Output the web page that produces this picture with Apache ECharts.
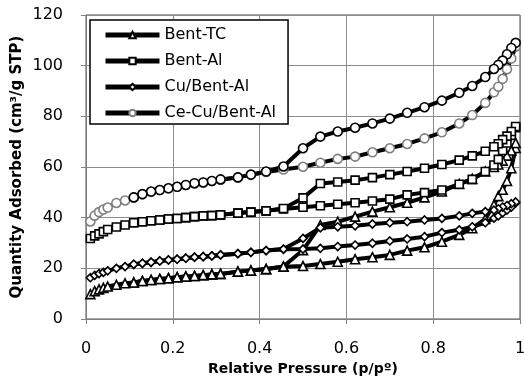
<!DOCTYPE html>
<html>
<head>
<meta charset="utf-8">
<script src="https://cdn.jsdelivr.net/npm/echarts@6/dist/echarts.min.js"></script>
<style>
  html, body { margin: 0; padding: 0; background: #fff; }
  #main { width: 524px; height: 391px; }
</style>
</head>
<body>
<div id="main"></div>
<script>
// relative pressure for the adsorption branch (up) and desorption branch (down)
const adsP = [0.01, 0.02, 0.03, 0.04, 0.05, 0.07, 0.09, 0.11, 0.13, 0.15, 0.17, 0.19, 0.21, 0.23, 0.25, 0.27, 0.29, 0.31, 0.35, 0.38, 0.415, 0.455, 0.50, 0.54, 0.58, 0.62, 0.66, 0.70, 0.74, 0.78, 0.82, 0.86, 0.89, 0.92, 0.94, 0.95, 0.96, 0.97, 0.98, 0.99];
const desP = [0.99, 0.98, 0.97, 0.96, 0.95, 0.94, 0.92, 0.89, 0.86, 0.82, 0.78, 0.74, 0.70, 0.66, 0.62, 0.58, 0.54, 0.50, 0.455, 0.415, 0.38, 0.35, 0.31, 0.29, 0.27, 0.25, 0.23, 0.21, 0.19, 0.17, 0.15, 0.13, 0.11];

const names = ["Bent-TC", "Bent-Al", "Cu/Bent-Al", "Ce-Cu/Bent-Al"];

const bentTcAds = [9.8, 11, 11.7, 12.3, 12.8, 13.5, 14.1, 14.4, 15, 15.4, 15.8, 16.1, 16.5, 16.8, 17, 17.3, 17.6, 17.8, 18.7, 19.1, 19.7, 20.6, 20.9, 21.7, 22.6, 23.6, 24.4, 25.3, 27, 28.3, 30.5, 33.2, 35.8, 39.5, 45, 48.5, 51, 54.5, 59.5, 67.5];
const bentTcDes = [69.5, 66.5, 64.5, 62.5, 61, 60, 58.2, 55.3, 53.3, 50.3, 48, 45.9, 44.1, 42.4, 40.4, 38.4, 37.1, 27.2, 20.7, 19.7, 19.1, 18.7, 17.8, 17.6, 17.3, 17, 16.8, 16.5, 16.1, 15.8, 15.4, 15, 14.4];

const bentAlAds = [31.8, 32.8, 33.6, 34.5, 35.3, 36.3, 37.1, 38, 38.4, 38.8, 39.1, 39.5, 39.7, 40, 40.4, 40.7, 40.8, 41.1, 41.8, 42.2, 42.7, 43.4, 44.1, 44.7, 45.3, 45.9, 46.6, 47.3, 49, 49.9, 50.9, 53.2, 55.1, 58.2, 60.8, 63, 66.5, 69.5, 72.5, 75.5];
const bentAlDes = [76, 74, 72.2, 70.8, 69.2, 68, 66.2, 64.4, 62.7, 61, 59.5, 58.2, 57, 55.8, 54.8, 54.1, 53.5, 47.8, 43.6, 42.7, 42.2, 41.8, 41.1, 40.8, 40.7, 40.4, 40, 39.7, 39.5, 39.1, 38.8, 38.4, 38];

const cuAds = [16.3, 17.2, 17.9, 18.4, 19, 20, 20.7, 21.6, 22, 22.4, 22.9, 23.3, 23.6, 24, 24.4, 24.6, 24.9, 25.3, 25.8, 26.3, 27, 27.5, 27.6, 27.9, 28.6, 29.2, 29.9, 30.8, 31.6, 32.5, 34.1, 35.2, 36.4, 38, 39.8, 40.7, 41.9, 43, 44.2, 45.8];
const cuDes = [46.2, 45.5, 44.8, 44.2, 43.5, 43, 42.4, 41.7, 40.7, 39.7, 39.1, 38.4, 38, 37.5, 36.8, 36.4, 36, 31.8, 27.6, 27, 26.3, 25.8, 25.3, 24.9, 24.6, 24.4, 24, 23.6, 23.3, 22.9, 22.4, 22, 21.6];

const ceCuAds = [38.5, 40.8, 42.2, 43.2, 44, 45.8, 46.8, 48, 49.2, 50.2, 50.9, 51.6, 52.2, 52.9, 53.5, 53.9, 54.5, 55, 55.9, 56.9, 58, 59, 60.1, 61.7, 63.2, 64.1, 65.8, 67.4, 69.1, 71.3, 73.7, 77.2, 80.5, 85.3, 89.5, 91.7, 94.8, 98.6, 102.8, 107.5];
const ceCuDes = [109, 107, 104.5, 102, 100.3, 98.7, 95.5, 92, 89.3, 86.2, 83.6, 81.4, 79.1, 77.2, 75.5, 74, 72, 67.4, 60.2, 58.2, 57, 55.9, 55.1, 54.5, 53.9, 53.6, 52.9, 52.2, 51.6, 50.9, 50.3, 49.3, 48];

const xTicks = [0, 0.2, 0.4, 0.6, 0.8, 1];
const yTicks = [0, 20, 40, 60, 80, 100, 120];

const FONT = "DejaVu Sans";

function pairs(px, py) {
  return px.map((p, i) => [p, py[i]]);
}

function branch(name, px, py, symbol, size, edge) {
  return {
    name: name,
    type: "line",
    data: pairs(px, py),
    symbol: symbol,
    symbolSize: size,
    showSymbol: true,
    lineStyle: { color: "#000", width: 4 },
    itemStyle: { color: "#fff", borderColor: edge, borderWidth: 1.6 },
    emphasis: { disabled: true },
    animation: false,
  };
}

var chartDom = document.getElementById("main");
var myChart = echarts.init(chartDom);

var option = {
  backgroundColor: "#fff",
  grid: {
    left: 86,
    right: 4,
    top: 15,
    bottom: 72,
    outerBoundsMode: "none",
    containLabel: false,
    show: true,
    borderColor: "#4d4d4d",
    borderWidth: 1,
  },
  legend: {
    data: names,
    orient: "vertical",
    left: 90,
    top: 20,
    padding: [7, 12, 3, 13],
    itemGap: 10,
    itemWidth: 54,
    itemHeight: 8,
    backgroundColor: "#fff",
    borderColor: "#000",
    borderWidth: 1.5,
    lineStyle: { width: 5, color: "#000" },
    textStyle: { fontFamily: FONT, fontSize: 16, lineHeight: 16, color: "#000" },
    selectedMode: false,
  },
  xAxis: {
    type: "value",
    min: 0,
    max: 1,
    interval: 0.2,
    name: "Relative Pressure (p/pº)",
    nameLocation: "middle",
    nameGap: 43,
    nameMoveOverlap: false,
    nameTextStyle: { fontFamily: FONT, fontSize: 14, lineHeight: 14, fontWeight: "bold", color: "#000" },
    axisLine: { show: true, lineStyle: { color: "#808080" } },
    axisTick: { show: true, length: 5, lineStyle: { color: "#808080" } },
    axisLabel: {
      fontFamily: FONT,
      fontSize: 16,
      lineHeight: 14,
      color: "#000",
      margin: 23,
      formatter: (v) => (xTicks.includes(+v.toFixed(1)) ? String(+v.toFixed(1)) : ""),
    },
    splitLine: { show: true, lineStyle: { color: "#8c8c8c", width: 1 } },
  },
  yAxis: {
    type: "value",
    min: 0,
    max: 120,
    interval: 20,
    name: "Quantity Adsorbed (cm³/g STP)",
    nameLocation: "middle",
    nameGap: 61,
    nameMoveOverlap: false,
    nameTextStyle: { fontFamily: FONT, fontSize: 15, fontWeight: "bold", color: "#000" },
    axisLine: { show: true, lineStyle: { color: "#808080" } },
    axisTick: { show: true, length: 5, lineStyle: { color: "#808080" } },
    axisLabel: {
      fontFamily: FONT,
      fontSize: 16,
      color: "#000",
      margin: 23,
      formatter: (v) => (yTicks.includes(v) ? String(v) : ""),
    },
    splitLine: { show: true, lineStyle: { color: "#8c8c8c", width: 1 } },
  },
  series: [
    branch(names[0], adsP, bentTcAds, "triangle", 9, "#000"),
    branch(names[0] + " des", desP, bentTcDes, "triangle", 9, "#000"),
    branch(names[1], adsP, bentAlAds, "rect", 8, "#000"),
    branch(names[1] + " des", desP, bentAlDes, "rect", 8, "#000"),
    branch(names[2], adsP, cuAds, "diamond", 8, "#000"),
    branch(names[2] + " des", desP, cuDes, "diamond", 8, "#000"),
    branch(names[3], adsP, ceCuAds, "circle", 9, "#808080"),
    branch(names[3] + " des", desP, ceCuDes, "circle", 9, "#000"),
  ],
};
option && myChart.setOption(option);
</script>
</body>
</html>
